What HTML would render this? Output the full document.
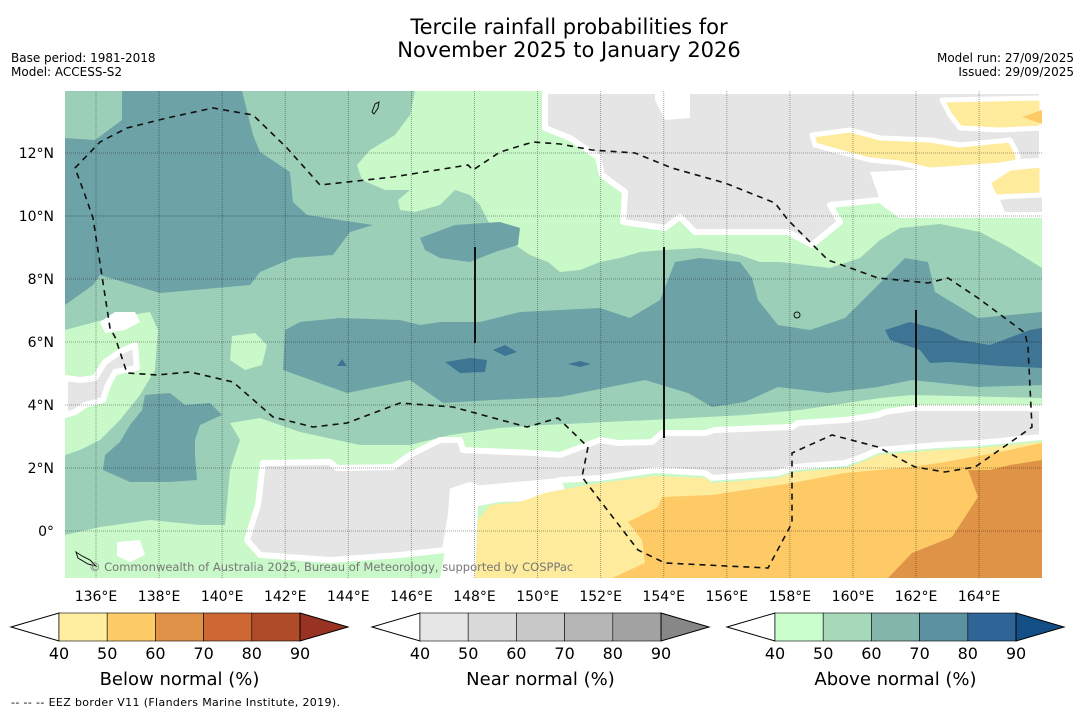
<!DOCTYPE html>
<html><head><meta charset="utf-8">
<style>
html,body{margin:0;padding:0;background:#fff;}
body{width:1085px;height:713px;overflow:hidden;font-family:"DejaVu Sans","Liberation Sans",sans-serif;}
svg{display:block;}
</style></head>
<body>
<svg id="chart" width="1085" height="713" viewBox="0 0 1085 713" font-family="DejaVu Sans, Liberation Sans, sans-serif">
<text x="569" y="34" font-size="21" text-anchor="middle" fill="#000">Tercile rainfall probabilities for</text>
<text x="569" y="57" font-size="21" text-anchor="middle" fill="#000">November 2025 to January 2026</text>
<text x="11" y="62" font-size="12">Base period: 1981-2018</text>
<text x="11" y="76" font-size="12">Model: ACCESS-S2</text>
<text x="1074" y="62" font-size="12" text-anchor="end">Model run: 27/09/2025</text>
<text x="1074" y="76" font-size="12" text-anchor="end">Issued: 29/09/2025</text>

<defs><clipPath id="mapclip"><rect x="65" y="91" width="977" height="487"/></clipPath></defs>
<g id="map" clip-path="url(#mapclip)">
<rect x="65" y="91" width="977" height="487" fill="#9ccfb8"/>
<path fill="#c9f8c9" d="M415,91 L1042,91 L1042,268 L1010,248 L980,232 L940,224 L900,228 L880,240 L860,258 L830,268 L780,262 L760,262 L740,255 L700,248 L665,250 L640,252 L620,258 L600,262 L580,270 L560,272 L548,262 L530,255 L505,238 L490,225 L480,205 L470,195 L455,190 L440,205 L415,212 L400,210 L398,200 L410,190 L385,190 L362,180 L357,165 L370,150 L395,135 L410,115 Z"/>
<path fill="#c9f8c9" d="M65,535 L100,527 L150,520 L200,525 L225,525 L230,470 L240,440 L230,423 L260,418 L300,432 L360,445 L410,445 L450,435 L500,428 L545,425 L650,420 L745,415 L800,410 L880,398 L912,395 L1042,398 L1042,578 L65,578 Z"/>
<path fill="#c9f8c9" d="M65,330 L110,318 L150,312 L158,330 L155,370 L140,395 L120,420 L100,440 L80,450 L65,455 Z"/>
<path fill="#c9f8c9" d="M232,336 L255,333 L267,345 L262,365 L245,370 L230,360 Z"/>
<path fill="#fff" d="M100,322 L115,312 L135,312 L140,322 L125,330 L105,333 Z"/>
<path fill="#fff" d="M117,542 L140,540 L145,555 L130,562 L117,556 Z"/>
<path fill="#6da3a6" d="M122,91 L242,91 L253,135 L260,152 L290,172 L293,202 L307,215 L373,225 L350,232 L333,255 L293,258 L260,272 L250,285 L160,293 L100,275 L93,285 L65,305 L65,138 L95,140 L122,120 Z"/>
<path fill="#6da3a6" d="M420,238 L455,225 L500,222 L520,228 L518,245 L495,252 L470,262 L440,258 L425,250 Z"/>
<path fill="#6da3a6" d="M285,330 L300,322 L340,318 L400,320 L420,325 L440,322 L480,322 L520,312 L560,310 L600,308 L630,318 L660,300 L675,262 L700,258 L740,262 L752,278 L758,300 L778,325 L810,330 L845,318 L878,285 L905,258 L928,262 L935,292 L978,318 L1042,312 L1042,385 L978,387 L912,380 L878,387 L828,393 L778,387 L745,402 L712,407 L688,393 L645,380 L560,397 L493,400 L443,403 L410,380 L347,393 L283,370 Z"/>
<path fill="#6da3a6" d="M145,395 L170,393 L185,405 L210,403 L222,415 L200,425 L195,440 L195,455 L197,480 L170,482 L130,482 L103,470 L105,455 L120,442 L130,425 L142,410 Z"/>
<path fill="#3e7594" d="M885,330 L910,322 L940,330 L960,340 L990,345 L1030,330 L1042,328 L1042,368 L1000,366 L950,362 L930,363 L920,350 L890,340 Z"/>
<path fill="#3e7594" d="M445,362 L470,358 L487,360 L485,372 L460,373 Z"/>
<path fill="#3e7594" d="M493,350 L505,345 L517,352 L505,356 Z"/>
<path fill="#3e7594" d="M568,364 L580,361 L591,364 L580,367 Z"/>
<path fill="#3e7594" d="M337,366 L342,359 L347,366 Z"/>
<g stroke="#fff" stroke-width="6" stroke-linejoin="round">
<path fill="#e5e5e5" d="M545,91 L1042,91 L1042,215 L900,215 L880,200 L830,205 L840,222 L812,245 L788,232 L695,232 L680,217 L665,228 L623,222 L625,192 L602,175 L598,157 L570,138 L545,128 Z"/>
<path fill="#e5e5e5" d="M65,378 L80,380 L95,378 L105,362 L120,352 L135,345 L137,368 L115,372 L108,385 L103,400 L85,405 L75,412 L65,415 Z"/>
<path fill="#e5e5e5" d="M263,463 L330,462 L337,468 L393,467 L410,455 L440,440 L460,440 L463,450 L533,453 L560,455 L600,440 L618,443 L652,442 L662,433 L705,433 L715,430 L792,427 L798,423 L845,420 L878,415 L885,412 L912,408 L1042,408 L1042,437 L978,443 L938,445 L878,450 L862,457 L845,463 L795,467 L778,473 L712,478 L705,473 L655,470 L600,478 L560,480 L545,485 L520,495 L500,497 L470,485 L455,490 L450,520 L445,550 L400,555 L330,560 L260,555 L247,540 L258,505 Z"/>
</g>
<path fill="#fff" d="M870,172 L950,168 L990,160 L1042,158 L1042,215 L900,215 L880,200 Z"/>
<path fill="#fff" d="M655,91 L690,91 L690,118 L665,120 L655,100 Z"/>
<path fill="#fff" d="M450,488 L560,478 L570,500 L500,502 L478,506 L475,578 L440,578 L445,550 Z"/>
<path fill="#e5e5e5" d="M1000,200 L1042,195 L1042,212 L1005,212 Z"/>
<g stroke="#fff" stroke-width="5" stroke-linejoin="round">
<path fill="#feeb9c" d="M812,135 L850,130 L880,138 L930,140 L960,145 L1010,140 L1018,155 L1018,162 L1000,165 L960,168 L930,170 L900,163 L870,160 L840,152 L815,145 Z"/>
<path fill="#feeb9c" d="M942,100 L1042,98 L1042,128 L1000,130 L960,128 L950,115 Z"/>
<path fill="#feeb9c" d="M988,182 L1010,168 L1042,165 L1042,195 L995,197 Z"/>
</g>
<path fill="#fdca66" d="M1022,117 L1042,110 L1042,124 Z"/>
<path fill="#feeb9c" d="M475,578 L478,520 L490,505 L520,502 L545,493 L560,490 L600,483 L655,476 L705,478 L712,483 L778,478 L795,472 L845,468 L862,462 L878,455 L938,450 L978,448 L1042,442 L1042,578 Z"/>
<path fill="#fdca66" d="M612,578 L645,563 L642,540 L628,522 L658,507 L662,497 L712,495 L792,483 L845,473 L878,470 L912,467 L945,462 L995,453 L1042,443 L1042,578 Z"/>
<path fill="#df9346" d="M968,470 L990,470 L1010,465 L1042,460 L1042,578 L888,578 L912,553 L952,537 L978,497 Z"/>
<g id="gridlines"></g>
<path fill="none" stroke="#111" stroke-width="1.6" stroke-dasharray="6,5" d="M75,168 L100,142 L127,128 L167,118 L213,108 L253,115 L287,148 L320,185 L393,177 L468,165 L473,170 L500,152 L533,142 L560,144 L592,150 L635,153 L672,168 L725,183 L775,203 L788,220 L828,260 L878,278 L928,283 L948,278 L978,298 L1025,333 L1028,347 L1032,427 L1018,437 L975,467 L945,472 L915,467 L878,447 L832,435 L792,453 L792,483 L792,523 L768,568 L665,563 L638,550 L582,477 L588,447 L558,418 L527,427 L453,407 L400,403 L347,423 L313,427 L273,417 L233,382 L190,372 L157,375 L127,373 L115,337 L110,328 L93,218 L85,195 Z"/>
<line x1="475" y1="247" x2="475" y2="343" stroke="#111" stroke-width="2"/>
<line x1="664" y1="247" x2="664" y2="438" stroke="#111" stroke-width="2"/>
<line x1="916" y1="310" x2="916" y2="407" stroke="#111" stroke-width="2"/>
<path fill="none" stroke="#111" stroke-width="1" d="M76,552 L82,556 L90,560 L96,566 L88,564 L78,558 Z"/>
<ellipse cx="797" cy="315" rx="3" ry="3" fill="none" stroke="#111"/>
<path fill="none" stroke="#111" stroke-width="1" d="M372,112 L375,104 L379,102 L378,108 L374,114 Z"/>
<text x="89" y="571" font-size="11.5" fill="#777">© Commonwealth of Australia 2025, Bureau of Meteorology, supported by COSPPac</text>
</g>
<g id="axes"></g>
<g id="colorbars"></g>
<text x="11" y="706" font-size="11" textLength="329" lengthAdjust="spacing">--  --  -- EEZ border V11 (Flanders Marine Institute, 2019).</text>
</svg>
<script>
const lonTicks = [136,138,140,142,144,146,148,150,152,154,156,158,160,162,164];
const latTicks = [0,2,4,6,8,10,12];
const cbLevels = [40,50,60,70,80,90];
const cbTitles = ["Below normal (%)","Near normal (%)","Above normal (%)"];
const belowColors = ["#ffeda0","#fecc67","#e09348","#cd6734","#b04b27","#983323"];
const nearColors = ["#e6e6e6","#d9d9d9","#c8c8c8","#b6b6b6","#a3a3a3","#878787"];
const aboveColors = ["#c9fdcb","#a6d9b8","#84b5aa","#5b91a0","#2f6496","#134f86"];

const NS = "http://www.w3.org/2000/svg";
function xLon(lon){ return 96 + (lon-136)*31.54; }
function yLat(lat){ return 531 - lat*31.5; }
function mk(tag, attrs, parent){ const e=document.createElementNS(NS,tag); for(const k in attrs) e.setAttribute(k,attrs[k]); parent.appendChild(e); return e; }

const grid = document.getElementById('gridlines');
lonTicks.forEach(function(lon){
  const l = mk('line',{x1:xLon(lon),x2:xLon(lon),y1:91,y2:578,stroke:'rgba(0,0,0,0.35)','stroke-width':1,'stroke-dasharray':'1,1'},grid);
  
  
});
latTicks.forEach(function(lat){
  const l = mk('line',{x1:65,x2:1042,y1:yLat(lat),y2:yLat(lat),stroke:'rgba(0,0,0,0.35)','stroke-width':1,'stroke-dasharray':'1,1'},grid);
  
  
});
const axes = document.getElementById('axes');
lonTicks.forEach(function(lon){
  const t = mk('text',{x:xLon(lon),y:601,'font-size':14,'text-anchor':'middle'},axes);
  t.textContent = lon + '°E';
  
  
});
latTicks.forEach(function(lat){
  const t = mk('text',{x:54,y:yLat(lat)+5,'font-size':14,'text-anchor':'end'},axes);
  t.textContent = lat===0 ? '0°' : lat + '°N';
  
  
});

const cbs = document.getElementById('colorbars');
const cbX = [59,420,775];
const palettes = [belowColors,nearColors,aboveColors];
const segW = 48.2, cbTop = 613, cbH = 28;
palettes.forEach(function(cols, i){
  const x0 = cbX[i];
  const n = cbLevels.length-1;
  const xEnd = x0 + n*segW;
  const lt = mk('polygon',{points:(x0-48)+','+(cbTop+cbH/2)+' '+x0+','+cbTop+' '+x0+','+(cbTop+cbH),fill:'#fff',stroke:'#000','stroke-width':1},cbs);
  
  
  for(let k=0;k<n;k++){
    const r = mk('rect',{x:x0+k*segW,y:cbTop,width:segW,height:cbH,fill:cols[k],stroke:'#000','stroke-width':0.6},cbs);
    
    
  }
  const rt = mk('polygon',{points:xEnd+','+cbTop+' '+(xEnd+48)+','+(cbTop+cbH/2)+' '+xEnd+','+(cbTop+cbH),fill:cols[n],stroke:'#000','stroke-width':1},cbs);
  
  
  cbLevels.forEach(function(v,k){
    const t = mk('text',{x:x0+k*segW,y:659,'font-size':16,'text-anchor':'middle'},cbs);
    t.textContent = v;
    
    
  });
  const tt = mk('text',{x:x0+n*segW/2,y:685,'font-size':18,'text-anchor':'middle'},cbs);
  tt.textContent = cbTitles[i];
  
  
});
</script>
</body></html>
